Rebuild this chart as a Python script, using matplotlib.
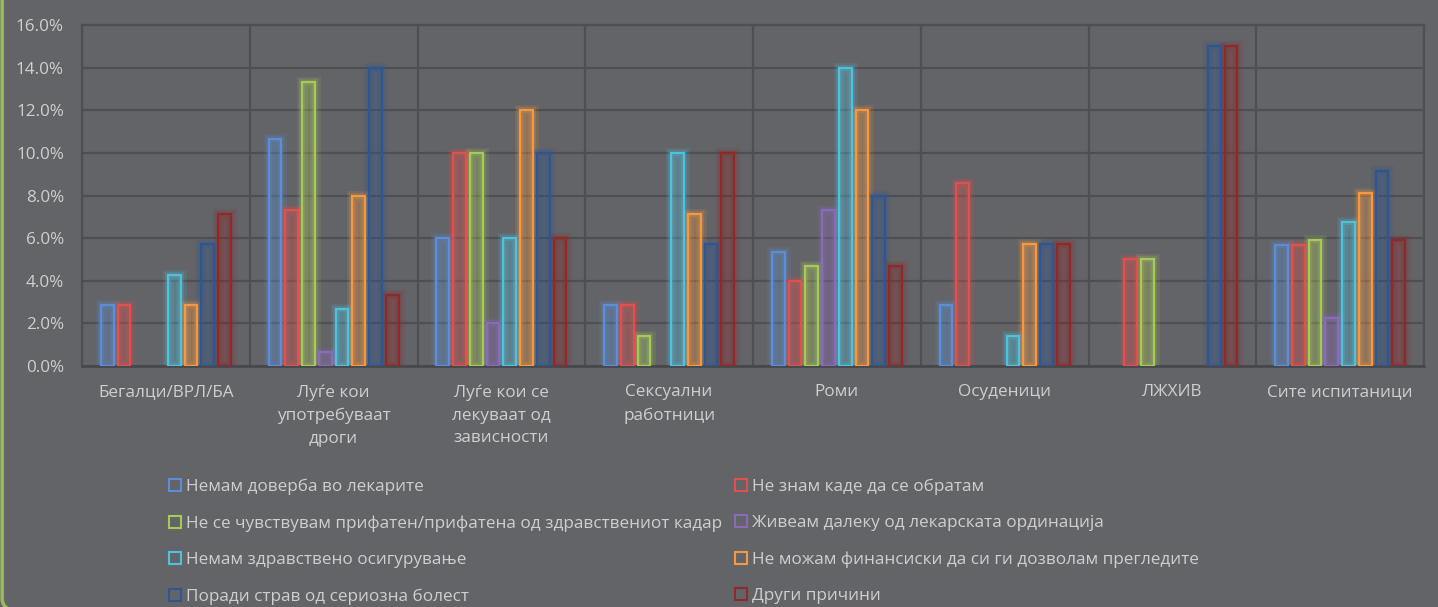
import numpy as np
import matplotlib
matplotlib.use("Agg")
import matplotlib.pyplot as plt
from matplotlib.patches import Patch, FancyBboxPatch

plt.rcParams['font.family'] = ['Open Sans', 'DejaVu Sans']

# categories (x axis)
categories = ["Бегалци/ВРЛ/БА", "Луѓе кои\nупотребуваат\nдроги",
              "Луѓе кои се\nлекуваат од\nзависности", "Сексуални\nработници",
              "Роми", "Осуденици", "ЛЖХИВ", "Сите испитаници"]

series_names = ["Немам доверба во лекарите",
                "Не знам каде да се обратам",
                "Не се чувствувам прифатен/прифатена од здравствениот кадар",
                "Живеам далеку од лекарската ординација",
                "Немам здравствено осигурување",
                "Не можам финансиски да си ги дозволам прегледите",
                "Поради страв од сериозна болест",
                "Други причини"]

# values in percent, one list per series (order of categories above)
no_trust      = [2.86, 10.67, 6.0, 2.86, 5.33, 2.86, 0.0, 5.7]
dont_know     = [2.86, 7.33, 10.0, 2.86, 4.0, 8.57, 5.0, 5.7]
not_accepted  = [0.0, 13.33, 10.0, 1.43, 4.67, 0.0, 5.0, 5.9]
far_away      = [0.0, 0.67, 2.0, 0.0, 7.33, 0.0, 0.0, 2.25]
no_insurance  = [4.29, 2.67, 6.0, 10.0, 14.0, 1.43, 0.0, 6.75]
no_money      = [2.86, 8.0, 12.0, 7.14, 12.0, 5.71, 0.0, 8.1]
fear          = [5.71, 14.0, 10.0, 5.71, 8.0, 5.71, 15.0, 9.15]
other         = [7.14, 3.33, 6.0, 10.0, 4.67, 5.71, 15.0, 5.9]

all_values = [no_trust, dont_know, not_accepted, far_away,
              no_insurance, no_money, fear, other]

colors = ["#5b8ed6", "#e0504d", "#a7c957", "#8a6bb8",
          "#4fc1dc", "#f7983f", "#2f5690", "#8f2a2a"]

bg = "#636468"
grid_c = "#4e4f52"
text_c = "#cfcfcf"

fig = plt.figure(figsize=(14.38, 6.07), dpi=100)
fig.patch.set_facecolor(bg)
ax = fig.add_axes([82 / 1438, 1 - 366 / 607, (1424 - 82) / 1438, (366 - 25) / 607])
ax.set_facecolor(bg)

# rounded green frame (only the left side and a bit of the corner show)
frame = FancyBboxPatch((0.0015, -0.012), 1.2, 1.2, boxstyle="round,pad=0,rounding_size=0.025",
                       transform=fig.transFigure, facecolor="none",
                       edgecolor="#9bbb59", linewidth=2.5, zorder=0)
fig.patches.append(frame)

x = np.arange(len(categories))
step = 0.1
width = 0.076
for j, (vals, c) in enumerate(zip(all_values, colors)):
    vals = np.array(vals)
    m = vals > 0
    xs = x[m] + (j - 3.5) * step
    hs = vals[m] / 100
    # soft glow
    ax.bar(xs, hs, width, facecolor="none", edgecolor=c, linewidth=8, alpha=0.12, zorder=2)
    ax.bar(xs, hs, width, facecolor="none", edgecolor=c, linewidth=4.5, alpha=0.2, zorder=2)
    ax.bar(xs, hs, width, facecolor=c, alpha=0.28, edgecolor="none", zorder=3)
    ax.bar(xs, hs, width, facecolor="none", edgecolor=c, linewidth=1.6, zorder=4)

ax.set_xlim(-0.5, len(categories) - 0.5)
ax.set_ylim(0, 0.16)
ax.set_yticks(np.arange(0, 0.161, 0.02))
ax.set_yticklabels([f"{v * 100:.1f}%" for v in np.arange(0, 0.161, 0.02)])
ax.set_xticks(x)
ax.set_xticklabels(categories, linespacing=1.58)
ax.tick_params(axis="both", length=0, colors=text_c, labelsize=12.3)
ax.tick_params(axis="x", pad=13)
ax.tick_params(axis="y", pad=13)

ax.set_xticks(np.arange(-0.5, len(categories)), minor=True)
ax.tick_params(axis="x", which="minor", length=0)
ax.grid(axis="y", color=grid_c, linewidth=1.6, zorder=1)
ax.grid(axis="x", which="minor", color=grid_c, linewidth=1.6, zorder=1)
ax.grid(axis="x", which="major", visible=False)
ax.set_axisbelow(True)
for s in ax.spines.values():
    s.set_color(grid_c)
    s.set_linewidth(1.6)
ax.spines["bottom"].set_color("#48494c")
ax.spines["bottom"].set_linewidth(2)

# legend, filled row by row as in the original
handles = [Patch(facecolor="none", edgecolor=c, linewidth=1.5) for c in colors]
order = [0, 2, 4, 6, 1, 3, 5, 7]
leg = fig.legend([handles[i] for i in order], [series_names[i] for i in order],
                 ncol=2, loc="upper left", bbox_to_anchor=(162 / 1438, 1 - 472 / 607),
                 frameon=False, fontsize=12.3, labelcolor=text_c,
                 handlelength=0.7, handleheight=0.7, handletextpad=0.3,
                 columnspacing=0.75, labelspacing=1.18, borderaxespad=0)

fig.savefig("out.png", dpi=100, facecolor=bg)
